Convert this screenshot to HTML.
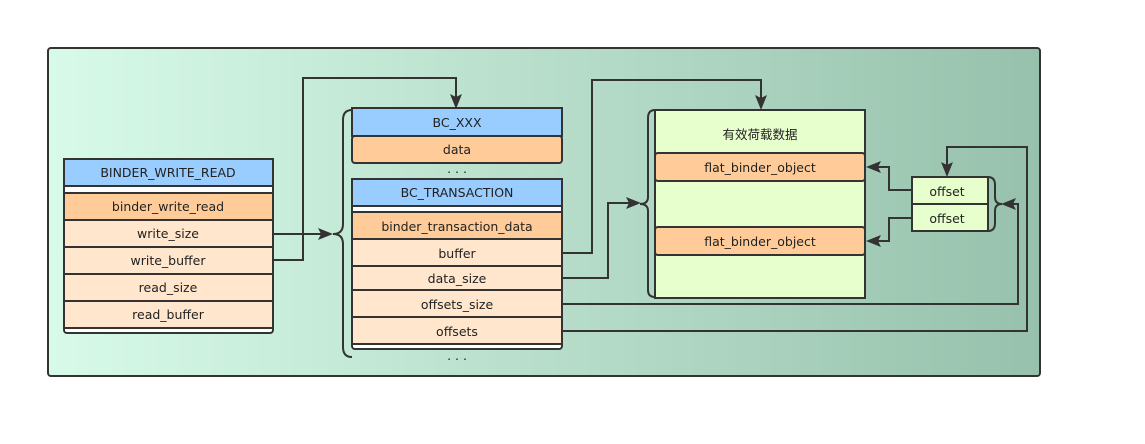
<!DOCTYPE html>
<html><head><meta charset="utf-8"><style>
html,body{margin:0;padding:0;background:#fff;}
svg text{font-family:"DejaVu Sans","Noto Sans CJK SC",sans-serif;font-size:12.5px;fill:#222;text-anchor:middle;}
</style></head><body>
<svg width="1145" height="439" viewBox="0 0 1145 439" xmlns="http://www.w3.org/2000/svg">
<defs>
<linearGradient id="g" x1="0" x2="1" y1="0" y2="0">
<stop offset="0" stop-color="#d8fbe9"/><stop offset="1" stop-color="#97c1ac"/>
</linearGradient>
</defs>
<rect x="48" y="48" width="992" height="328" rx="3" fill="url(#g)" stroke="#333" stroke-width="2"/>
<g stroke="#333" stroke-width="2">
<rect x="64" y="159" width="209" height="174" rx="3" fill="#fff"/>
<rect x="64" y="159" width="209" height="27" fill="#99ccff"/>
<rect x="64" y="193" width="209" height="27" fill="#ffcc99"/>
<rect x="64" y="220" width="209" height="27" fill="#ffe6cc"/>
<rect x="64" y="247" width="209" height="27" fill="#ffe6cc"/>
<rect x="64" y="274" width="209" height="27" fill="#ffe6cc"/>
<rect x="64" y="301" width="209" height="27" fill="#ffe6cc"/>
<rect x="352" y="136" width="210" height="27" rx="3" fill="#ffcc99"/>
<rect x="352" y="108" width="210" height="28" fill="#99ccff"/>
<rect x="352" y="179" width="210" height="170" rx="3" fill="#fff"/>
<rect x="352" y="179" width="210" height="27" fill="#99ccff"/>
<rect x="352" y="212" width="210" height="27" fill="#ffcc99"/>
<rect x="352" y="239" width="210" height="27" fill="#ffe6cc"/>
<rect x="352" y="266" width="210" height="24" fill="#ffe6cc"/>
<rect x="352" y="290" width="210" height="27" fill="#ffe6cc"/>
<rect x="352" y="317" width="210" height="27" fill="#ffe6cc"/>
<rect x="655" y="110" width="210" height="188" fill="#e6ffcc"/>
<rect x="655" y="153" width="210" height="28" rx="3" fill="#ffcc99"/>
<rect x="655" y="227" width="210" height="28" rx="3" fill="#ffcc99"/>
<rect x="912" y="177" width="76" height="54" fill="#e6ffcc"/>
<line x1="912" y1="204" x2="988" y2="204"/>
</g>
<g fill="none" stroke="#333" stroke-width="2">
<path d="M352,110 Q343,110 343,120 L343,224 Q343,234 333,234 Q343,234 343,244 L343,347 Q343,357 352,357"/>
<path d="M655,110 Q648,110 648,118 L648,197 Q648,204 640,204 Q648,204 648,211 L648,290 Q648,297 655,297"/>
<path d="M988,177 Q995,177 995,185 L995,197 Q995,204 1002,204 Q995,204 995,211 L995,223 Q995,231 988,231"/>
<path d="M273,234 L325,234"/>
<path d="M273,260 L303,260 L303,78 L456,78 L456,100"/>
<path d="M562,253 L592,253 L592,80 L761,80 L761,102"/>
<path d="M562,278 L608,278 L608,203 L632,203"/>
<path d="M562,304 L1018,304 L1018,204 L1010,204"/>
<path d="M562,331 L1027,331 L1027,147 L947,147 L947,170"/>
<path d="M912,190 L889,190 L889,167 L875,167"/>
<path d="M912,218 L889,218 L889,241 L875,241"/>
</g>
<g fill="#333">
<path d="M333,234 L318,228 L321,234 L318,240Z"/>
<path d="M456,109 L450,94 L456,97 L462,94Z"/>
<path d="M761,110 L755,95 L761,98 L767,95Z"/>
<path d="M641,203 L626,197 L629,203 L626,209Z"/>
<path d="M1001,204 L1016,198 L1013,204 L1016,210Z"/>
<path d="M947,177 L941,162 L947,165 L953,162Z"/>
<path d="M866,167 L881,161 L878,167 L881,173Z"/>
<path d="M866,241 L881,235 L878,241 L881,247Z"/>
</g>
<text x="168" y="177">BINDER_WRITE_READ</text>
<text x="168" y="211">binder_write_read</text>
<text x="168" y="238">write_size</text>
<text x="168" y="265">write_buffer</text>
<text x="168" y="292">read_size</text>
<text x="168" y="319">read_buffer</text>
<text x="457" y="127">BC_XXX</text>
<text x="457" y="154">data</text>
<text x="457" y="173">. . .</text>
<text x="457" y="197">BC_TRANSACTION</text>
<text x="457" y="231">binder_transaction_data</text>
<text x="457" y="258">buffer</text>
<text x="457" y="283">data_size</text>
<text x="457" y="309">offsets_size</text>
<text x="457" y="336">offsets</text>
<text x="457" y="360">. . .</text>
<text x="760" y="139">有效荷载数据</text>
<text x="760" y="172">flat_binder_object</text>
<text x="760" y="246">flat_binder_object</text>
<text x="947" y="196">offset</text>
<text x="947" y="223">offset</text>
</svg>
</body></html>
